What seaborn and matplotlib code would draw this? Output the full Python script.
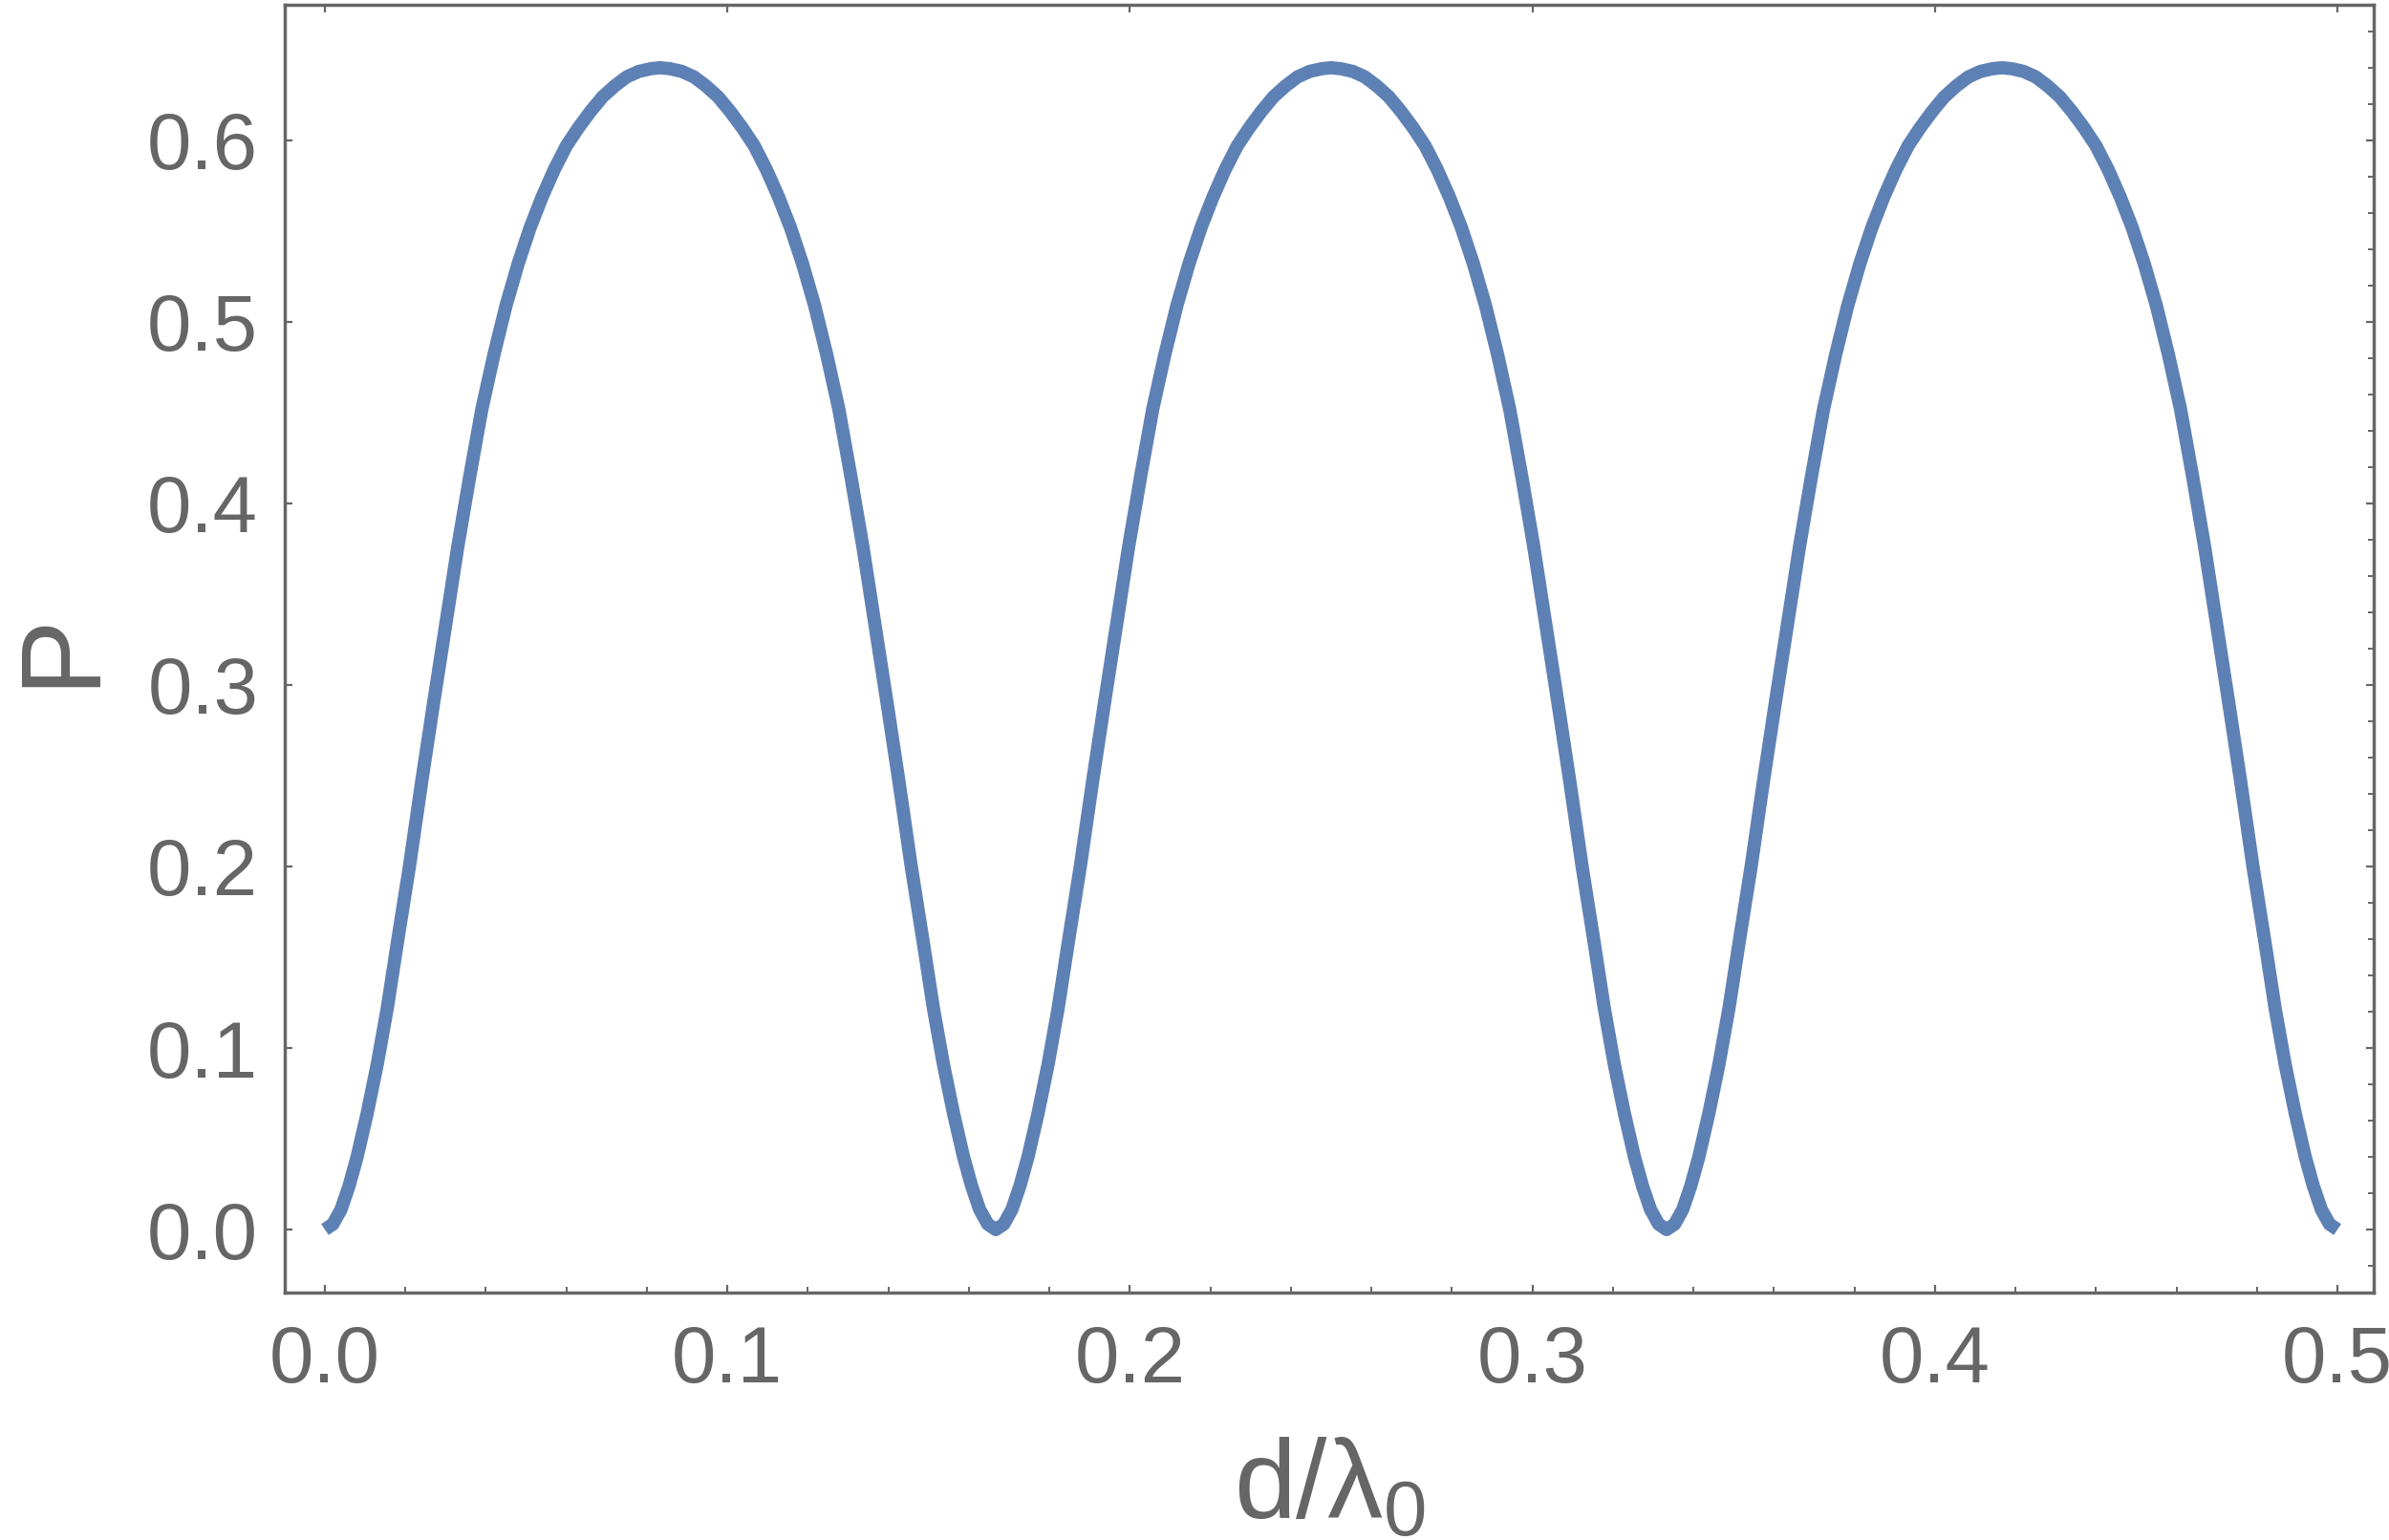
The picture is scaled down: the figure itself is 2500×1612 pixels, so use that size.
import matplotlib
matplotlib.use("Agg")
import matplotlib.pyplot as plt
from matplotlib.ticker import MultipleLocator
import seaborn as sns
import pandas as pd

# ---- data (three humps of P against d/lambda0) ----
d_hump1 = [
    0.0, 0.002, 0.004, 0.006, 0.008, 0.0105, 0.013, 0.0155, 0.018, 0.021,
    0.024, 0.027, 0.030, 0.033, 0.036, 0.039, 0.042, 0.045, 0.048, 0.051,
    0.054, 0.057, 0.060, 0.063, 0.066, 0.069, 0.072, 0.075, 0.078, 0.081,
    0.08333,
    0.08567, 0.08867, 0.09167, 0.09467, 0.09767, 0.10067, 0.10367, 0.10667, 0.10967, 0.11267,
    0.11567, 0.11867, 0.12167, 0.12467, 0.12767, 0.13067, 0.13367, 0.13667, 0.13967, 0.14267,
    0.14567, 0.14867, 0.15117, 0.15367, 0.15617, 0.15867, 0.16067, 0.16267, 0.16467, 0.16667,
]
P_hump1 = [
    0.000, 0.003, 0.011, 0.024, 0.040, 0.064, 0.091, 0.122, 0.158, 0.200,
    0.246, 0.290, 0.333, 0.376, 0.415, 0.452, 0.482, 0.509, 0.532, 0.552,
    0.569, 0.584, 0.597, 0.607, 0.616, 0.624, 0.630, 0.635, 0.638, 0.6395,
    0.640,
    0.6395, 0.638, 0.635, 0.630, 0.624, 0.616, 0.607, 0.597, 0.584, 0.569,
    0.552, 0.532, 0.509, 0.482, 0.452, 0.415, 0.376, 0.333, 0.290, 0.246,
    0.200, 0.158, 0.122, 0.091, 0.064, 0.040, 0.024, 0.011, 0.003, 0.000,
]

d_hump2 = [
    0.16867, 0.17067, 0.17267, 0.17467, 0.17717, 0.17967, 0.18217, 0.18467, 0.18767, 0.19067,
    0.19367, 0.19667, 0.19967, 0.20267, 0.20567, 0.20867, 0.21167, 0.21467, 0.21767, 0.22067,
    0.22367, 0.22667, 0.22967, 0.23267, 0.23567, 0.23867, 0.24167, 0.24467, 0.24767, 0.25,
    0.25234, 0.25534, 0.25834, 0.26134, 0.26434, 0.26734, 0.27034, 0.27334, 0.27634, 0.27934,
    0.28234, 0.28534, 0.28834, 0.29134, 0.29434, 0.29734, 0.30034, 0.30334, 0.30634, 0.30934,
    0.31234, 0.31534, 0.31784, 0.32034, 0.32284, 0.32534, 0.32734, 0.32934, 0.33134, 0.33333,
]
P_hump2 = [
    0.003, 0.011, 0.024, 0.040, 0.064, 0.091, 0.122, 0.158, 0.200, 0.246,
    0.290, 0.333, 0.376, 0.415, 0.452, 0.482, 0.509, 0.532, 0.552, 0.569,
    0.584, 0.597, 0.607, 0.616, 0.624, 0.630, 0.635, 0.638, 0.6395, 0.640,
    0.6395, 0.638, 0.635, 0.630, 0.624, 0.616, 0.607, 0.597, 0.584, 0.569,
    0.552, 0.532, 0.509, 0.482, 0.452, 0.415, 0.376, 0.333, 0.290, 0.246,
    0.200, 0.158, 0.122, 0.091, 0.064, 0.040, 0.024, 0.011, 0.003, 0.000,
]

d_hump3 = [
    0.33533, 0.33733, 0.33933, 0.34133, 0.34383, 0.34633, 0.34883, 0.35133, 0.35433, 0.35733,
    0.36033, 0.36333, 0.36633, 0.36933, 0.37233, 0.37533, 0.37833, 0.38133, 0.38433, 0.38733,
    0.39033, 0.39333, 0.39633, 0.39933, 0.40233, 0.40533, 0.40833, 0.41133, 0.41433, 0.41667,
    0.419, 0.422, 0.425, 0.428, 0.431, 0.434, 0.437, 0.440, 0.443, 0.446,
    0.449, 0.452, 0.455, 0.458, 0.461, 0.464, 0.467, 0.470, 0.473, 0.476,
    0.479, 0.482, 0.4845, 0.487, 0.4895, 0.492, 0.494, 0.496, 0.498, 0.5,
]
P_hump3 = [
    0.003, 0.011, 0.024, 0.040, 0.064, 0.091, 0.122, 0.158, 0.200, 0.246,
    0.290, 0.333, 0.376, 0.415, 0.452, 0.482, 0.509, 0.532, 0.552, 0.569,
    0.584, 0.597, 0.607, 0.616, 0.624, 0.630, 0.635, 0.638, 0.6395, 0.640,
    0.6395, 0.638, 0.635, 0.630, 0.624, 0.616, 0.607, 0.597, 0.584, 0.569,
    0.552, 0.532, 0.509, 0.482, 0.452, 0.415, 0.376, 0.333, 0.290, 0.246,
    0.200, 0.158, 0.122, 0.091, 0.064, 0.040, 0.024, 0.011, 0.003, 0.000,
]

x_ticks = [0.0, 0.1, 0.2, 0.3, 0.4, 0.5]
x_tick_labels = ["0.0", "0.1", "0.2", "0.3", "0.4", "0.5"]
y_ticks = [0.0, 0.1, 0.2, 0.3, 0.4, 0.5, 0.6]
y_tick_labels = ["0.0", "0.1", "0.2", "0.3", "0.4", "0.5", "0.6"]
x_label = r"$\mathregular{d/λ_0}$"
y_label = "P"

# ---- style ----
sns.set_style("white")
GRAY = "#666666"
LINE = "#5E81B5"
plt.rcParams["font.family"] = ["Liberation Sans", "DejaVu Sans"]
plt.rcParams["mathtext.fontset"] = "custom"
plt.rcParams["mathtext.rm"] = "Liberation Sans"
plt.rcParams["mathtext.it"] = "Liberation Sans"
plt.rcParams["mathtext.bf"] = "Liberation Sans"

df = pd.DataFrame({
    "d": d_hump1 + d_hump2 + d_hump3,
    "P": P_hump1 + P_hump2 + P_hump3,
})

fig = plt.figure(figsize=(25, 16.12), dpi=100)
ax = fig.add_axes([0.1192, 0.1607, 0.8744, 0.8362])

sns.lineplot(data=df, x="d", y="P", ax=ax, color=LINE, linewidth=10.0,
             estimator=None, sort=False)
for ln in ax.lines:
    ln.set_solid_capstyle("butt")
    ln.set_solid_joinstyle("round")

ax.set_xlim(-0.00997, 0.509)
ax.set_ylim(-0.0347, 0.6747)

ax.set_xticks(x_ticks)
ax.set_xticklabels(x_tick_labels)
ax.set_yticks(y_ticks)
ax.set_yticklabels(y_tick_labels)
ax.xaxis.set_minor_locator(MultipleLocator(0.02))
ax.yaxis.set_minor_locator(MultipleLocator(0.02))

for sp in ax.spines.values():
    sp.set_visible(True)
    sp.set_color(GRAY)
    sp.set_linewidth(2.5)

ax.tick_params(axis="both", which="major", direction="in", length=6, width=1.6,
               color=GRAY, labelcolor=GRAY, labelsize=60,
               top=True, right=True, bottom=True, left=True)
ax.tick_params(axis="x", which="major", pad=24)
ax.tick_params(axis="y", which="major", pad=20)
ax.tick_params(axis="x", which="minor", direction="in", length=4, width=1.4,
               color=GRAY, bottom=True, top=False)
ax.tick_params(axis="y", which="minor", direction="in", length=4, width=1.4,
               color=GRAY, left=False, right=True)

ax.set_xlabel(x_label, fontsize=84, color=GRAY, labelpad=29)
ax.set_ylabel(y_label, fontsize=86, color=GRAY, labelpad=24)

fig.savefig("out.png", dpi=100, facecolor="white")
